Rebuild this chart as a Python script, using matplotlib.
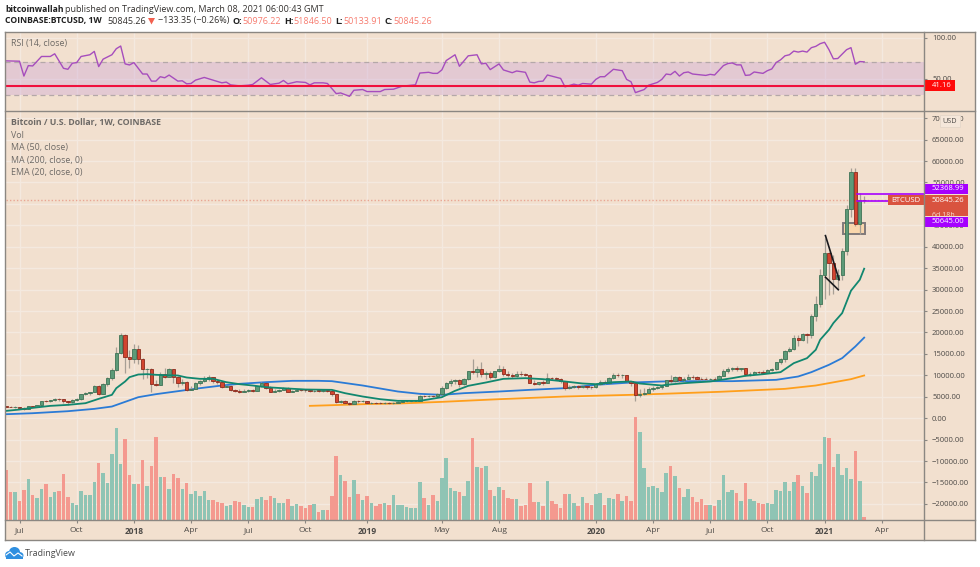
import matplotlib
matplotlib.use("Agg")
import matplotlib.pyplot as plt
from matplotlib.patches import Rectangle, Ellipse, Polygon
from matplotlib.lines import Line2D

plt.rcParams["font.family"] = ["Open Sans", "DejaVu Sans"]

# weekly candles, one value per week, first week is 2017-06-12
first_open = 2780
closes = [
    2700, 2650, 2680, 2400, 2200, 2750, 2700, 3000, 4040, 4000,
    4200, 4590, 4430, 4000, 3730, 4280, 4510, 5600, 5990, 6070,
    7400, 5680, 7940, 9340, 11290, 15180, 19500, 14250, 13800, 16190,
    13900, 11500, 11550, 7940, 7800, 10300, 9650, 11500, 9600, 8200,
    8450, 6610, 6880, 8200, 8700, 9200, 9500, 8600, 8500, 7300,
    7500, 6600, 6400, 6100, 6400, 6450, 6400, 7400, 8200, 7000,
    6200, 6400, 6600, 7100, 6200, 6400, 6600, 6550, 6500, 6300,
    6450, 6400, 6450, 6400, 5600, 3800, 4000, 3500, 3250, 4000,
    3950, 4000, 3500, 3600, 3550, 3500, 3600, 3500, 3650, 3800,
    3900, 4000, 4050, 4100, 5200, 5100, 5200, 5100, 5600, 7000,
    8200, 8700, 8900, 7900, 9100, 10900, 10800, 11500, 10300, 10500,
    9500, 10900, 11500, 10300, 10100, 9800, 10400, 10300, 10150, 8200,
    8000, 8350, 8300, 9400, 9350, 9100, 8600, 7000, 7350, 7450,
    7350, 7400, 7300, 7200, 7900, 8500, 8250, 9400, 10100, 10000,
    10050, 8600, 8200, 5400, 5600, 5800, 6900, 7100, 7300, 7400,
    8800, 8750, 9500, 8800, 9200, 9700, 9500, 9250, 9100, 9050,
    9150, 9100, 9900, 10900, 11500, 11600, 11550, 11600, 10200, 10300,
    10800, 10700, 10650, 11300, 11400, 13000, 13800, 15600, 16200, 18600,
    18300, 19600, 19500, 23800, 26700, 33400, 38600, 36100, 32500, 33500,
    38900, 48900, 57500, 45300, 50976, 50845,
]
highs = [
    2950, 2800, 2800, 2700, 2600, 2850, 2900, 3150, 4050, 4200,
    4300, 4750, 4700, 4450, 4100, 4400, 4700, 5750, 6150, 6200,
    7800, 7800, 8100, 9500, 11800, 16700, 19850, 19700, 15900, 17200,
    17100, 14000, 11800, 11800, 9000, 10800, 11700, 11700, 11500, 9900,
    9200, 8600, 7400, 8400, 8900, 9800, 10000, 9700, 8800, 8500,
    7800, 7700, 6900, 6800, 6700, 6800, 6700, 7600, 8500, 8300,
    7500, 6700, 6800, 7300, 7200, 6600, 6800, 6800, 6700, 6700,
    6600, 6600, 6700, 6600, 6500, 5700, 4300, 4200, 3700, 4200,
    4300, 4200, 4100, 3750, 3750, 3700, 3750, 3700, 3800, 4000,
    4100, 4200, 4200, 4300, 5400, 5500, 5500, 5400, 5800, 7400,
    8400, 9100, 9100, 9100, 9400, 11000, 13900, 12200, 13200, 11100,
    11000, 11100, 12300, 12100, 10900, 10500, 10950, 10900, 10500, 10400,
    8900, 8550, 8800, 10500, 9700, 9500, 9400, 8700, 7800, 7700,
    7700, 7800, 7600, 7500, 8200, 8900, 8800, 9600, 10500, 10500,
    10400, 10100, 8700, 8200, 6900, 7000, 7200, 7400, 7500, 7800,
    9000, 10000, 9900, 9900, 9600, 10400, 10000, 9800, 9600, 9500,
    9400, 9500, 10000, 11400, 12000, 12000, 12100, 11800, 11700, 10800,
    10950, 10900, 11200, 11450, 11700, 13200, 14000, 16000, 16500, 19400,
    19500, 19900, 19900, 24300, 28400, 34800, 42000, 38700, 38000, 34900,
    39700, 49700, 58350, 58350, 52600, 51846,
]
lows = [
    2500, 2500, 2400, 2300, 1850, 2200, 2600, 2650, 3000, 3700,
    3800, 4000, 4000, 3600, 2980, 3550, 4100, 4300, 5400, 5500,
    6000, 5500, 5600, 7500, 9000, 11000, 15000, 10500, 11800, 12800,
    12700, 9200, 9400, 6000, 7600, 7700, 9300, 9500, 8300, 7300,
    7700, 6300, 6600, 6800, 7800, 8500, 8700, 8100, 8000, 7000,
    7200, 6300, 6000, 5800, 6000, 6200, 6200, 6300, 7300, 6700,
    6000, 6100, 6200, 6500, 6000, 6100, 6300, 6300, 6200, 6100,
    6200, 6100, 6200, 6200, 5200, 3600, 3500, 3300, 3100, 3200,
    3600, 3700, 3400, 3400, 3300, 3350, 3400, 3350, 3400, 3500,
    3700, 3800, 3800, 3900, 4100, 4900, 4950, 4950, 5000, 5500,
    6900, 7500, 8000, 7300, 7800, 8900, 10300, 9700, 9600, 9100,
    9200, 9400, 10800, 9800, 9500, 9400, 9600, 9900, 9900, 8100,
    7700, 7700, 7800, 8200, 8900, 8800, 8300, 6500, 6800, 7000,
    6900, 7000, 6900, 6800, 7000, 7700, 8000, 8200, 9200, 9500,
    9300, 8400, 7600, 3900, 4900, 5500, 6100, 6400, 6700, 6800,
    7400, 8100, 8500, 8500, 8600, 9000, 9100, 8900, 8800, 8900,
    8950, 8950, 9000, 9850, 10600, 11100, 11100, 11100, 9850, 9900,
    10200, 10300, 10200, 10500, 11000, 11200, 12700, 13200, 15400, 15900,
    16900, 18000, 17600, 18700, 22700, 26000, 27700, 28800, 29000, 30000,
    32300, 38000, 47000, 44900, 43000, 50133,
]

# volume bars in plain chart units, colours
volumes = [
    148, 83, 81, 54, 88, 120, 72, 64, 90, 107, 67, 81, 86, 137, 67, 49, 43, 86, 73, 74,
    112, 170, 138, 110, 197, 275, 166, 240, 132, 105, 105, 179, 100, 161, 248, 128, 128, 90, 136, 124,
    91, 108, 75, 84, 69, 86, 59, 59, 52, 49, 41, 42, 56, 53, 44, 36, 36, 60, 66, 59,
    69, 65, 49, 49, 60, 40, 45, 39, 33, 43, 47, 23, 28, 27,
    70, 189, 132, 116, 68, 117, 77, 58, 71, 50, 41, 47, 50, 42, 72, 43, 43, 37, 35, 35,
    113, 65, 44, 74, 56, 124, 184, 93, 86, 82, 71, 115, 245, 158, 155, 161, 88, 69, 98, 88,
    63, 60, 61, 41, 44, 110, 53, 51, 39, 115, 54, 45, 35, 77, 77, 49, 41, 68, 48, 44,
    76, 79, 42, 63, 61, 76, 56, 71, 55, 307, 262, 155, 96, 99, 93,
    82, 139, 161, 131, 93, 66, 91, 66, 52, 61, 44, 43, 40, 57, 132, 82, 89, 80, 56, 108,
    62, 56, 50, 45, 48, 45, 87, 84, 112, 86, 112, 132, 99, 80, 141, 131, 167, 248, 244, 156,
    196, 134, 153, 122, 206, 114, 7,
]
vol_colors = (
    "RRGRRGRGGR" "GGRRRGGGGG" "GRGGGGGRRG" "RRGRRGRGRR" "GRGGGGGRRR" "GGRRGGRGGR" "RGGGRGGRRR" "GRGR"
    "RRGRRGRGRG" "RRGRGGGGGG" "GRGRGGGGGR" "GGRGRGRGGR" "RRGRRRRGRG" "RRRRGGRGRR" "GGRGGRGRRR" "GGGGG"
    "GGRGRGGRRR" "RGRGGGGRGR" "GGRRGGGGGG" "GRGRGGGGRR" "GGGGRGR"
)

# moving averages: week index, price
ema20_week = [0, 3, 6, 10, 14, 18, 21, 24, 25, 27, 28, 30, 32, 34, 36, 39, 41, 44, 47, 50,
              53, 56, 59, 64, 68, 74, 77, 81, 85, 89, 94, 99, 102, 105, 109, 113, 118, 122, 127, 131,
              134, 138, 142, 144, 149, 150, 154, 160, 165, 168, 172, 176, 179, 182, 184, 185, 187, 188, 190, 192, 194, 195]
ema20_val = [1705, 2017, 2406, 2873, 3107, 3497, 4509, 5444, 7001, 8559, 9571, 10194, 10272, 10117, 10039, 9961, 9494, 9182, 9182, 8403,
             7936, 7624, 7235, 6923, 6690, 6612, 5833, 5054, 4431, 4042, 4042, 4899, 6378, 7546, 8325, 9182, 9338, 9104, 8559, 8092,
             7936, 8403, 8559, 8092, 7624, 7780, 8170, 8559, 9338, 9880, 10260, 10740, 12840, 14000, 15960, 18300, 20630, 22190, 24525, 29743, 32300, 34883]
ma50_week = [0, 6, 14, 20, 24, 27, 30, 34, 39, 44, 49, 53, 59, 65, 71, 74, 81, 89, 94, 99,
             104, 112, 119, 127, 134, 142, 149, 154, 165, 175, 180, 183, 187, 190, 193, 195]
ma50_val = [927, 1160, 1627, 2173, 2718, 3808, 4898, 5600, 6300, 7001, 7625, 8014, 8403, 8715, 8715, 8637, 7625, 6223, 5678, 5444,
            5833, 6223, 6612, 7001, 7780, 8325, 8559, 8637, 8637, 8948, 9727, 10740, 12453, 14011, 16736, 18800]
ma200_week = [69, 74, 81, 89, 99, 112, 127, 142, 149, 162, 177, 184, 192, 195]
ma200_val = [2874, 3030, 3263, 3419, 3808, 4431, 5054, 5444, 5678, 6145, 6845, 7625, 9104, 9961]

# RSI: week index, value
rsi_week = [0, 3, 4, 5, 6, 8, 10, 11, 13, 14, 15, 16, 17, 19, 20, 21, 22, 24, 25, 26,
            27, 28, 29, 31, 32, 33, 34, 35, 36, 37, 39, 40, 41, 42, 43, 45, 47, 49, 50, 51,
            53, 55, 56, 58, 60, 62, 63, 64, 66, 68, 69, 70, 72, 73, 75, 76, 78, 79, 81, 82,
            85, 86, 88, 90, 93, 94, 96, 97, 98, 99, 100, 102, 103, 105, 107, 108, 109, 110, 112, 113,
            115, 116, 118, 119, 120, 121, 122, 123, 126, 127, 129, 130, 131, 133, 134, 135, 136, 138, 140, 141,
            142, 143, 145, 146, 148, 149, 150, 151, 152, 153, 154, 155, 156, 159, 160, 161, 163, 164, 165, 166,
            167, 168, 169, 170, 172, 173, 174, 175, 176, 177, 178, 179, 180, 181, 182, 183, 184, 185, 186, 187,
            188, 189, 191, 192, 193, 194, 195]
rsi_val = [71.8, 71.4, 53.2, 66, 65.6, 77.2, 77.2, 80.5, 62.7, 61.5, 68.9, 69.7, 77.2, 79.3, 83.4, 64.8, 73.9, 79.3, 86.7, 90,
           68.1, 66.8, 69.7, 55.7, 55.7, 47, 47, 52.4, 51.1, 54.4, 47, 47.4, 43.7, 44.1, 48.2, 51.5, 48.2, 44.9, 45.8, 42.4,
           41.2, 42, 42.9, 51.1, 42.9, 44.5, 47.8, 43.7, 46.2, 45.4, 42.4, 44.9, 44.9, 44.1, 31.7, 32.5, 28.4, 35.8, 36.7, 34.2,
           34.2, 36.7, 37.1, 40.8, 42.5, 56.9, 57.8, 56.5, 56.5, 60.7, 72.2, 79.3, 65.2, 78, 79.3, 68.1, 68.9, 61.1, 68.1, 60.7,
           57.3, 59.4, 57.8, 45.8, 44.9, 46.6, 47, 54.5, 50.3, 40, 43.3, 42, 44.1, 43.3, 49.1, 52.4, 52.4, 61.5, 59.8, 49.1,
           46.2, 32.9, 36.7, 42, 45.4, 49.1, 55.7, 54.9, 59, 53.2, 57.3, 58.2, 55.7, 54, 55.3, 54.5, 66, 68.5, 69.3, 66.9,
           66.9, 54, 54.5, 58.2, 56.5, 59.8, 61.9, 69.8, 73.1, 78, 79.3, 83.8, 82.6, 83.8, 82.6, 88, 89.6, 92.9, 94.6, 85.5,
           74.3, 74.7, 85.5, 88, 67.7, 71, 70.6]

price_ticks = list(range(-20000, 70001, 5000))
rsi_ticks = [50, 100]
time_ticks = [3, 16, 29, 42, 55, 68, 82, 99, 112, 134, 147, 160, 173, 186, 199]
time_labels = ["Jul", "Oct", "2018", "Apr", "Jul", "Oct", "2019", "May", "Aug", "2020", "Apr", "Jul", "Oct", "2021", "Apr"]
bold_labels = ["2018", "2019", "2020", "2021"]

last_price = 50845.26
rsi_last = 41.16
upper_level = 52368.99
lower_level = 50645.00

BG = "#f2e0cf"
GRID = "#f4e9df"
AXIS = "#8b8782"
TEXT = "#4d4a47"
GREEN = "#5d9a78"
RED = "#d2452f"
PURPLE = "#a600ff"
TAG_SIZE = 5.5

W, H = 980, 567
PANE_L, PANE_R = 4.5, 924
RSI_T, RSI_B = 31.5, 110.5
MAIN_T, MAIN_B = 110.5, 519.5
FRAME_R, FRAME_B = 975, 540


def pane(top, bottom):
    return [PANE_L / W, 1 - bottom / H, (PANE_R - PANE_L) / W, (bottom - top) / H]


fig = plt.figure(figsize=(W / 100, H / 100), dpi=100, facecolor="white")
fig.add_artist(Rectangle((PANE_L / W, 1 - FRAME_B / H), (FRAME_R - PANE_L) / W, (FRAME_B - RSI_T) / H,
                         transform=fig.transFigure, facecolor=BG, edgecolor="none", zorder=-1))

ax_rsi = fig.add_axes(pane(RSI_T, RSI_B))
ax = fig.add_axes(pane(MAIN_T, MAIN_B))
xlim = (-0.41, 208.6)

for a in (ax_rsi, ax):
    a.set_facecolor(BG)
    a.set_xlim(xlim)
    a.set_axisbelow(True)
    a.grid(True, color=GRID, lw=1)
    for s in a.spines.values():
        s.set_visible(False)
    a.yaxis.tick_right()
    a.set_xticks(time_ticks)

# RSI pane
ax_rsi.set_ylim(11, 107.8)
ax_rsi.set_yticks(rsi_ticks)
ax_rsi.set_yticklabels(["%.2f" % v for v in rsi_ticks])
ax_rsi.tick_params(axis="x", length=0, labelbottom=False)
ax_rsi.axhspan(30, 70, color="#c8a0d8", alpha=0.35, lw=0)
ax_rsi.axhline(70, color="#b4a8a8", lw=0.9, ls=(0, (4, 3)))
ax_rsi.axhline(30, color="#b4a8a8", lw=0.9, ls=(0, (4, 3)))
ax_rsi.plot(rsi_week, rsi_val, color="#a64dbd", lw=1)
ax_rsi.axhline(rsi_last, color="#f0103c", lw=1.5)

# main pane
ax.set_ylim(-23645, 71800)
ax.set_yticks(price_ticks)
ax.set_yticklabels([("%.2f" % v).replace("-", "\u2212") for v in price_ticks])
ax.set_xticklabels(time_labels)

weeks = list(range(len(closes)))
opens = [first_open] + closes[:-1]

vol_scale = 77.88
ax.bar(weeks, [v * vol_scale for v in volumes], bottom=-23645, width=0.8,
       color=["#8fc4b4" if c == "G" else "#f4998f" for c in vol_colors], lw=0, zorder=2)

ax.plot(ma200_week, ma200_val, color="#ff9f1c", lw=1.3, zorder=3)
ax.plot(ma50_week, ma50_val, color="#2b7bd6", lw=1.3, zorder=3)

# level box goes under the candles
ax.add_patch(Rectangle((190.1, 43060), 5.2, 2490, facecolor="#f9d6ac", edgecolor="#80797a", lw=1.4, zorder=3))

ax.vlines(weeks, lows, highs, color="#a79f95", lw=0.9, zorder=4)
ax.bar(weeks, [max(abs(c - o), 60) for c, o in zip(closes, opens)],
       bottom=[min(c, o) for c, o in zip(closes, opens)], width=0.76,
       color=[GREEN if c >= o else RED for c, o in zip(closes, opens)],
       edgecolor=["#3f7356" if c >= o else "#8c2a1c" for c, o in zip(closes, opens)], lw=0.6, zorder=5)

ax.plot(ema20_week, ema20_val, color="#11876f", lw=1.3, zorder=6)

# drawn trend lines
ax.plot([186.2, 189.3], [42600, 32300], color="#1a1a1e", lw=1.2, zorder=7)
ax.plot([186.2, 189.1], [32900, 30000], color="#1a1a1e", lw=1.2, zorder=7)

# last price and levels
ax.plot([0, 208.6], [last_price, last_price], color="#e9a593", lw=1, ls=(0, (1, 1.5)), zorder=3)
ax.plot([193.3, 208.6], [upper_level, upper_level], color=PURPLE, lw=1.2, zorder=7)
ax.plot([193.3, 208.6], [lower_level, lower_level], color=PURPLE, lw=1.2, zorder=7)

tick_kw = dict(length=2.4, width=0.8, color=AXIS, labelcolor=TEXT, labelsize=TAG_SIZE, pad=3.4)
ax.tick_params(axis="both", **tick_kw)
ax_rsi.tick_params(axis="y", **tick_kw)
ax.tick_params(axis="x", pad=3.2, labelsize=6)
for t in ax.get_xticklabels():
    if t.get_text() in bold_labels:
        t.set_fontweight("bold")

trans = ax.get_yaxis_transform()
px = 1 / (PANE_R - PANE_L)
usd_per_px = (71800 + 23645) / (MAIN_B - MAIN_T)
label_x = 1 + 7.5 * px


def price_tag(center, height, color, label):
    ax.add_patch(Rectangle((1, center - height / 2 * usd_per_px), 43.5 * px, height * usd_per_px, transform=trans,
                           facecolor=color, edgecolor="none", clip_on=False, zorder=10))
    if label:
        ax.text(label_x, center, label, transform=trans, color="white", fontsize=TAG_SIZE, va="center",
                clip_on=False, zorder=11)


# the tags sit apart from their levels so they do not collide
price_tag(49600, 21, "#d9533f", "")
price_tag(53575, 10, PURPLE, "%.2f" % upper_level)
price_tag(45860, 10, PURPLE, "%.2f" % lower_level)
ax.text(label_x, last_price, "%.2f" % last_price, transform=trans, color="white", fontsize=TAG_SIZE,
        va="center", clip_on=False, zorder=11)
ax.text(label_x, 47300, "6d 18h", transform=trans, color="#f6d9d0", fontsize=5,
        va="center", clip_on=False, zorder=11)
ax.add_patch(Rectangle((1 - 36 * px, last_price - 5 * usd_per_px), 36 * px, 10 * usd_per_px, transform=trans,
                       facecolor="#d9533f", edgecolor="none", clip_on=False, zorder=10))
ax.text(1 - 18 * px, last_price, "BTCUSD", transform=trans, color="white", fontsize=5.5, ha="center", va="center",
        clip_on=False, zorder=11)

rsi_trans = ax_rsi.get_yaxis_transform()
rsi_per_px = (107.8 - 11) / (RSI_B - RSI_T)
ax_rsi.add_patch(Rectangle((1, rsi_last - 5.5 * rsi_per_px), 31 * px, 11 * rsi_per_px, transform=rsi_trans,
                           facecolor="#ff0a0a", edgecolor="none", clip_on=False, zorder=10))
ax_rsi.text(label_x, rsi_last, "%.2f" % rsi_last, transform=rsi_trans, color="white", fontsize=TAG_SIZE,
            va="center", clip_on=False, zorder=11)

# overlay in pixel coordinates for the frame and the header and footer text
top = fig.add_axes([0, 0, 1, 1], zorder=20)
top.set_xlim(0, W)
top.set_ylim(H, 0)
top.axis("off")

for x0, y0, x1, y1 in [(PANE_L, RSI_T, FRAME_R, RSI_T), (PANE_L, FRAME_B, FRAME_R, FRAME_B),
                       (PANE_L, RSI_T, PANE_L, FRAME_B), (FRAME_R, RSI_T, FRAME_R, FRAME_B),
                       (PANE_L, RSI_B, FRAME_R, RSI_B), (PANE_L, MAIN_B, FRAME_R, MAIN_B),
                       (PANE_R, RSI_T, PANE_R, FRAME_B)]:
    top.add_line(Line2D([x0, x1], [y0, y1], color=AXIS, lw=1))

top.add_patch(Rectangle((939.5, 115), 20.5, 12, facecolor="#f5e7da", edgecolor="#e6d8ca", lw=0.7, zorder=5))
top.text(949.7, 121.3, "USD", fontsize=5.2, color=TEXT, ha="center", va="center", zorder=6)

head = dict(fontsize=6.5, va="center")
top.text(5, 9, "bitcoinwallah", color="#1f1f1f", fontweight="bold", fontsize=6.2, va="center")
top.text(64.5, 9, "published on TradingView.com, March 08, 2021 06:00:43 GMT", color="#33302e", **head)
top.text(5, 21, "COINBASE:BTCUSD, 1W", color="#1f1f1f", fontweight="bold", fontsize=6.2, va="center")
top.text(107, 21, "50845.26", color="#33302e", **head)
top.add_patch(Polygon([(148, 18), (155, 18), (151.5, 24.5)], facecolor="#f2604f", edgecolor="none"))
top.text(158, 21, "\u2212133.35 (\u22120.26%)", color="#33302e", **head)
for x0, name, x1, value in [(232, "O:", 242, "50976.22"), (284, "H:", 293, "51846.50"),
                            (335, "L:", 343, "50133.91"), (384, "C:", 393, "50845.26")]:
    top.text(x0, 21, name, color="#1f1f1f", fontweight="bold", **head)
    top.text(x1, 21, value, color="#f77c70", **head)

leg = dict(fontsize=6.4, color="#6e6a66", va="center")
top.text(11, 43.7, "RSI (14, close)", **leg)
top.text(11, 122.7, "Bitcoin / U.S. Dollar, 1W, COINBASE", fontweight="bold", fontsize=6.3, color="#6e6a66", va="center")
top.text(11, 135, "Vol", **leg)
top.text(11, 147.5, "MA (50, close)", **leg)
top.text(11, 160, "MA (200, close, 0)", **leg)
top.text(11, 172.5, "EMA (20, close, 0)", **leg)

# cloud logo
for cx, cy, ew, eh in [(9.5, 555, 9, 8), (14.5, 552, 11, 10), (19.5, 555.5, 8, 7)]:
    top.add_patch(Ellipse((cx, cy), ew, eh, facecolor="#2f8fe0", edgecolor="none"))
top.add_patch(Rectangle((6, 555), 17, 4, facecolor="#2f8fe0", edgecolor="none"))
top.add_line(Line2D([6, 10, 14, 18, 22], [555, 552, 556, 553, 556], color="white", lw=0.8))
top.text(25, 553, "TradingView", fontsize=6.4, color="#4a4a4a", va="center")

fig.savefig("out.png", dpi=100)
